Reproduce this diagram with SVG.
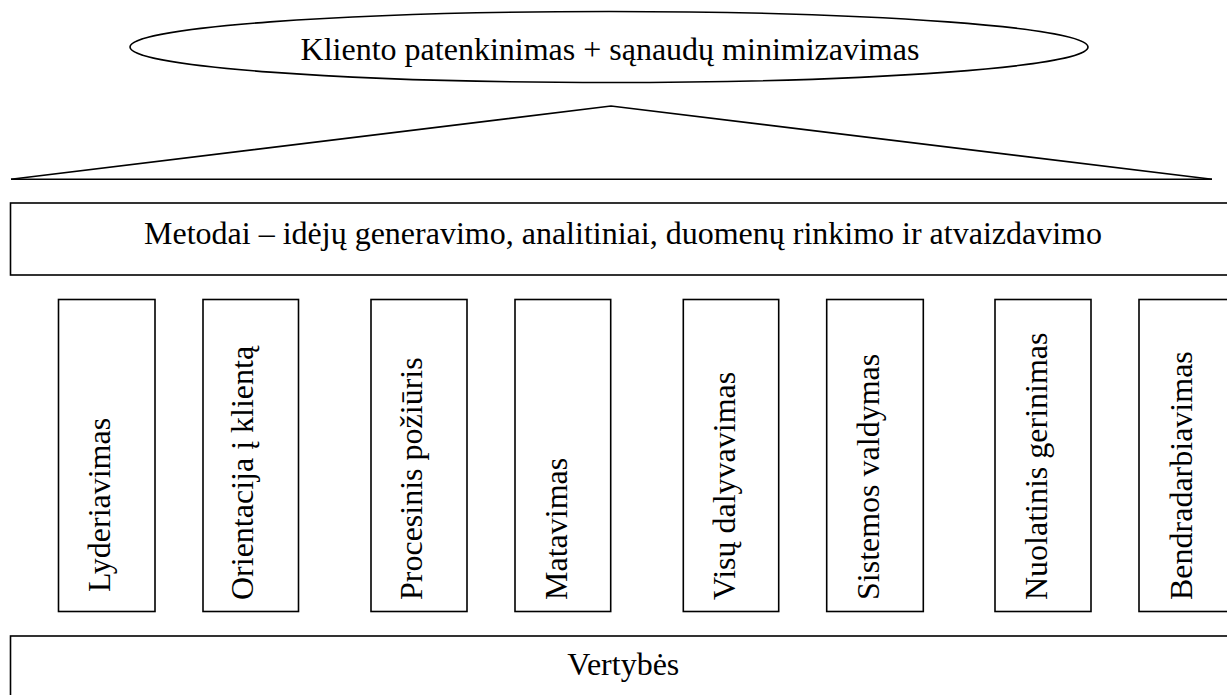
<svg xmlns="http://www.w3.org/2000/svg" width="1227" height="695" viewBox="0 0 1227 695">
<style>
.s{fill:#fff;stroke:#000;stroke-width:1.6}
.l{fill:none;stroke:#000;stroke-width:1.6}
text{font-family:'Liberation Serif','Times New Roman','DejaVu Serif',serif;font-size:32px;fill:#000}
.c{text-anchor:middle}
</style>
<rect width="1227" height="695" fill="#fff"/>
<g id="goal">
<ellipse class="s" cx="609" cy="47" rx="479" ry="35.5"/>
<text class="c" x="610" y="60">Kliento patenkinimas + sąnaudų minimizavimas</text>
</g>
<g id="roof">
<polyline class="l" points="11,179.3 611,106 1212,179.3"/>
<line class="l" x1="11" y1="179.3" x2="1212" y2="179.3"/>
</g>
<g id="methods">
<rect class="s" x="10.5" y="203" width="1226" height="72"/>
<text class="c" x="623" y="244">Metodai – idėjų generavimo, analitiniai, duomenų rinkimo ir atvaizdavimo</text>
</g>
<g id="p1"><rect class="s" x="58.5" y="299.5" width="96.5" height="312"/><text transform="translate(110,592) rotate(-90)">Lyderiavimas</text></g>
<g id="p2"><rect class="s" x="203" y="299.5" width="95.5" height="312"/><text transform="translate(253,600) rotate(-90)">Orientacija į klientą</text></g>
<g id="p3"><rect class="s" x="371" y="299.5" width="96" height="312"/><text transform="translate(421.7,600) rotate(-90)">Procesinis požiūris</text></g>
<g id="p4"><rect class="s" x="515" y="299.5" width="95.7" height="312"/><text transform="translate(566.7,600) rotate(-90)">Matavimas</text></g>
<g id="p5"><rect class="s" x="683.3" y="299.5" width="95.4" height="312"/><text transform="translate(735,600) rotate(-90)">Visų dalyvavimas</text></g>
<g id="p6"><rect class="s" x="826.7" y="299.5" width="96.6" height="312"/><text transform="translate(879.3,600) rotate(-90)">Sistemos valdymas</text></g>
<g id="p7"><rect class="s" x="995" y="299.5" width="96" height="312"/><text transform="translate(1046.7,600) rotate(-90)">Nuolatinis gerinimas</text></g>
<g id="p8"><rect class="s" x="1139" y="299.5" width="96.5" height="312"/><text transform="translate(1191.7,600) rotate(-90)">Bendradarbiavimas</text></g>
<g id="values">
<rect class="s" x="10.5" y="636" width="1226" height="70"/>
<text class="c" x="623.3" y="675">Vertybės</text>
</g>
<g id="connectors"></g>
</svg>
